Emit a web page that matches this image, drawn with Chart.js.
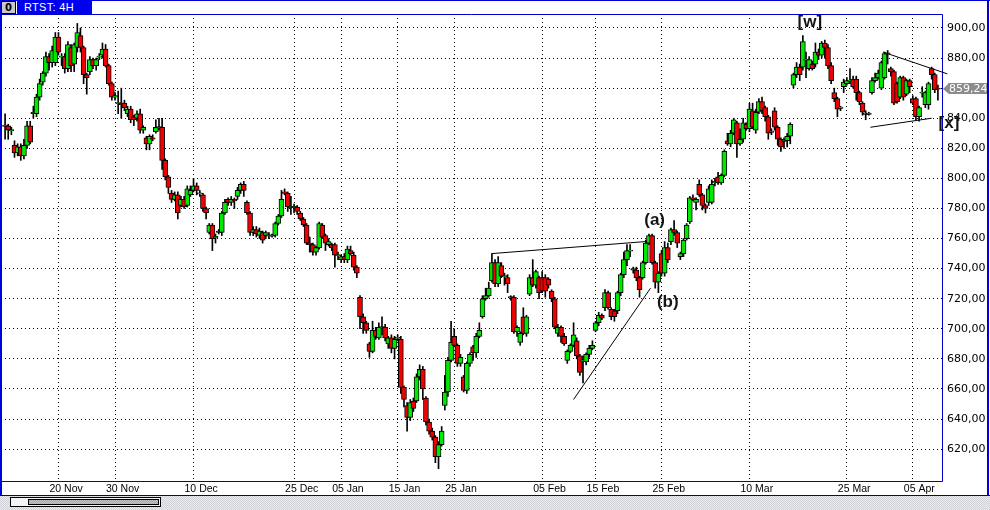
<!DOCTYPE html>
<html>
<head>
<meta charset="utf-8">
<title>RTST: 4H</title>
<script src="https://cdn.jsdelivr.net/npm/chart.js@4.4.1/dist/chart.umd.min.js"></script>
<style>
  html, body { margin: 0; padding: 0; }
  body { width: 990px; height: 510px; position: relative; overflow: hidden; background: #fff; font-family: 'Liberation Sans', Arial, sans-serif; }
  #chart { position: absolute; left: 0; top: 0; }
  .bottom { position: absolute; left: 0; top: 495px; width: 990px; height: 15px; border-top: 1px solid #0000a8;
            background-color: #d8d8d8; background-image: repeating-conic-gradient(#ececec 0 25%, #cfd2d6 0 50%); background-size: 2px 2px; }
  .scroll { position: absolute; left: 10px; top: 1px; width: 149px; height: 8px; border: 1px solid #000; background: #f4f4f4; }
  .thumb { position: absolute; left: 17px; top: 1px; width: 129px; height: 4px; border: 1px solid #000;
           background-color: #b4b4b4; background-image: repeating-conic-gradient(#c4c4c4 0 25%, #a8a8a8 0 50%); background-size: 2px 2px; }
  .win-l { position: absolute; left: 0; top: 0; width: 2px; height: 496px; background: #0000d8; }
  .win-r { position: absolute; left: 987px; top: 0; width: 2px; height: 496px; background: #0000d8; }
  .win-t { position: absolute; left: 0; top: 0; width: 990px; height: 1px; background: #0000d8; }
  .icon { position: absolute; left: 1px; top: 1px; width: 13px; height: 11px; border: 1px solid #000; background: #c8c8c8;
          font: bold 10px/11px 'DejaVu Sans', sans-serif; text-align: center; color: #000; }
  .caption { position: absolute; left: 17px; top: 0; width: 75px; height: 14px; background: #0000f0; color: #fff;
             font: 11px/14px 'Liberation Sans', Arial, sans-serif; padding-left: 7px; box-sizing: border-box; letter-spacing: 0.3px; }
</style>
</head>
<body>
<div class="bottom"><div class="scroll"><div class="thumb"></div></div></div>
<canvas id="chart" width="990" height="510"></canvas>
<div class="win-l"></div>
<div class="win-r"></div>
<div class="win-t"></div>
<div class="icon">0</div>
<div class="caption">RTST: 4H</div>
<script>
// Свечи 4H, по порядку слева направо
const opens = [
  835,835,832,822,817,821,815,822,835,843,
  843,854,864,870,881,877,877,894,881,881,
  873,887,876,887,895,887,869,871,879,875,
  881,882,886,875,863,854,850,850,850,843,
  846,841,840,843,832,827,823,827,831,834,
  834,812,801,790,786,789,782,786,782,789,
  792,795,790,789,780,764,769,761,765,764,
  777,786,784,786,788,792,796,784,777,764,
  766,762,764,762,762,762,762,770,775,791,
  790,781,781,781,777,773,769,757,756,751,
  754,769,762,756,756,756,749,746,748,746,
  752,749,741,721,708,704,690,685,699,694,
  701,701,690,694,687,694,693,661,649,641,
  652,652,668,673,654,638,632,628,615,623,
  649,658,679,695,689,677,668,659,677,688,
  684,695,708,720,722,732,744,730,742,735,
  734,721,721,698,691,708,697,723,734,729,
  734,734,734,733,725,720,697,701,695,679,
  685,689,692,682,679,678,683,687,699,704,
  709,714,724,713,712,712,724,736,746,752,
  740,739,734,734,744,757,762,744,731,750,
  737,754,758,766,764,748,750,760,771,787,
  784,796,789,782,784,784,797,801,797,802,
  825,823,830,837,823,826,836,833,845,832,
  844,851,847,841,831,845,834,826,825,825,
  828,862,869,874,874,879,873,876,876,884,
  882,890,887,875,857,853,847,861,863,865,
  866,866,857,850,843,843,857,865,867,860,
  867,883,873,871,863,854,867,856,865,853,
  853,841,857,849,849,873,869,860
];
const highs = [
  843,836,834,825,823,823,826,838,838,848,
  856,866,871,884,883,888,897,897,883,883,
  891,889,890,903,900,888,870,881,880,880,
  883,890,889,876,864,857,858,860,852,848,
  848,842,845,846,835,828,829,829,839,840,
  840,813,802,792,791,791,788,788,795,795,
  800,797,792,790,781,770,770,763,766,778,
  786,787,788,787,794,797,798,785,778,768,
  768,767,765,765,764,763,771,776,792,793,
  791,788,783,782,778,774,770,761,757,755,
  771,770,763,760,757,757,751,749,750,755,
  755,751,742,722,710,705,691,705,701,704,
  708,703,695,696,695,696,695,662,651,653,
  654,670,676,675,655,640,634,629,625,635,
  669,681,705,700,690,683,669,678,684,689,
  697,704,722,727,731,750,746,748,744,737,
  736,722,722,702,698,714,709,736,746,739,
  735,738,736,734,726,721,703,702,697,686,
  690,704,694,683,682,684,689,692,705,711,
  710,726,725,714,713,725,737,751,756,756,
  741,741,735,745,759,763,763,745,738,752,
  758,757,767,772,765,751,760,770,788,789,
  787,799,790,783,795,799,800,804,803,819,
  830,832,840,838,833,840,837,850,850,846,
  853,854,848,842,833,847,835,827,827,830,
  837,870,877,876,895,884,881,878,890,886,
  891,892,889,877,860,854,848,866,867,873,
  868,868,858,851,845,844,867,870,872,878,
  884,885,874,872,864,868,868,866,866,855,
  854,848,861,858,864,874,870,862
];
const lows = [
  826,826,829,814,815,812,813,820,823,840,
  841,852,862,868,872,874,875,882,875,870,
  871,871,871,884,884,863,856,869,873,872,
  879,880,874,862,852,852,843,840,845,841,
  837,835,838,830,830,819,819,825,830,832,
  806,799,790,784,785,773,781,780,781,788,
  791,789,788,778,773,763,752,757,763,762,
  776,782,782,780,786,790,788,776,762,762,
  761,760,757,760,760,761,761,769,774,789,
  778,776,777,776,772,768,756,751,749,749,
  753,760,752,755,752,741,746,744,744,744,
  749,739,734,700,697,697,681,684,693,693,
  696,692,687,684,680,692,657,648,632,639,
  645,651,666,653,636,630,626,611,607,622,
  646,655,678,688,675,675,658,657,675,679,
  681,694,707,719,721,731,728,728,734,729,
  724,719,697,695,689,696,695,722,728,727,
  720,724,721,727,718,700,695,691,689,677,
  684,688,680,669,664,676,681,686,698,702,
  706,712,713,706,705,710,722,734,742,748,
  737,732,721,733,743,756,743,727,724,735,
  735,744,756,762,754,746,748,759,770,785,
  779,788,779,777,782,783,795,796,796,801,
  822,821,829,814,822,824,832,831,833,830,
  843,843,838,826,829,832,822,818,820,821,
  823,860,867,865,872,867,872,872,874,879,
  880,880,873,863,851,841,845,857,862,863,
  860,852,849,842,839,842,856,864,866,859,
  866,876,868,849,850,853,852,855,857,849,
  839,838,854,847,846,866,857,852
];
const closes = [
  835,832,832,817,821,815,822,835,824,844,
  854,863,870,881,877,885,894,884,881,873,
  889,875,889,897,887,869,867,879,875,879,
  881,886,875,863,854,855,850,849,847,846,
  839,839,843,832,834,823,828,826,834,834,
  812,801,794,786,789,777,786,781,793,792,
  795,792,790,780,777,769,760,761,764,777,
  784,784,786,785,792,796,792,777,764,766,
  763,765,759,764,762,762,770,775,786,790,
  781,781,781,778,773,769,757,756,751,754,
  770,761,757,758,754,749,749,748,746,753,
  750,741,737,708,704,699,685,699,695,701,
  701,694,694,687,693,694,661,653,641,651,
  647,668,673,660,638,632,628,615,623,632,
  658,679,691,689,677,681,659,677,683,684,
  695,699,720,722,727,744,730,744,735,735,
  730,721,698,701,697,697,708,734,729,738,
  724,725,725,729,720,701,701,695,690,685,
  689,696,682,671,679,683,687,689,704,709,
  707,724,714,708,708,724,736,746,752,752,
  739,734,726,744,757,762,744,731,737,737,
  754,746,766,764,757,750,759,769,787,786,
  786,789,782,780,793,796,798,797,802,818,
  823,830,839,823,826,837,833,846,834,844,
  851,845,841,830,831,834,826,821,825,828,
  836,869,874,869,891,879,879,873,884,882,
  890,887,875,865,853,846,847,864,865,865,
  861,857,851,844,843,843,865,867,870,877,
  883,883,871,850,851,867,854,865,861,850,
  841,847,857,857,863,869,859,859.24
];

// подписи дат: номер свечи -> текст
const tickIndex = [17, 35, 60, 92, 107, 125, 143, 171, 188, 209, 237, 268, 289];
const tickText = ['20 Nov', '30 Nov', '10 Dec', '25 Dec', '05 Jan', '15 Jan', '25 Jan',
                  '05 Feb', '15 Feb', '25 Feb', '10 Mar', '25 Mar', '05 Apr'];
const priceTicks = [620, 640, 660, 680, 700, 720, 740, 760, 780, 800, 820, 840, 860, 880, 900];

// линии тренда: [свеча1, цена1, свеча2, цена2]
const trendLines = [
  [155, 750, 204, 758],
  [181, 653, 205.5, 727],
  [279.5, 884, 300, 869.5],
  [275.5, 834, 295, 840]
];
// разметка волн
const waveText = ['[w]', '(a)', '(b)', '[x]'];
const waveIndex = [256.2, 206.8, 211, 300.5];
const wavePrice = [903.7, 772, 717.5, 836.8];

const GREEN = '#00e800';
const RED = '#f00000';
const FRAME = '#0000c8';

const fmt = v => v.toFixed(2).replace('.', ',');

const idx = opens.map((_, i) => i);
const wickData = idx.map(i => ({ x: i, y: [lows[i], highs[i]] }));
const bodyData = idx.map(i => {
  let a = opens[i], b = closes[i];
  // доджи рисуем тонкой чертой
  if (Math.abs(a - b) < 0.6) {
    const m = (a + b) / 2;
    a = m - 0.4; b = m + 0.4;
  }
  return { x: i, y: [a, b] };
});
const bodyColors = idx.map(i => closes[i] >= opens[i] ? GREEN : RED);

const annotate = {
  id: 'annotate',
  afterDatasetsDraw(chart) {
    const { ctx, chartArea, scales: { x, y } } = chart;
    ctx.save();
    // рамка графика
    ctx.strokeStyle = FRAME;
    ctx.lineWidth = 1;
    ctx.beginPath();
    ctx.moveTo(0, chartArea.top + 0.5);
    ctx.lineTo(chartArea.right + 0.5, chartArea.top + 0.5);
    ctx.lineTo(chartArea.right + 0.5, chartArea.bottom + 0.5);
    ctx.lineTo(0, chartArea.bottom + 0.5);
    ctx.stroke();

    // линии тренда
    ctx.strokeStyle = '#000';
    trendLines.forEach(l => {
      ctx.beginPath();
      ctx.moveTo(x.getPixelForValue(l[0]), y.getPixelForValue(l[1]));
      ctx.lineTo(x.getPixelForValue(l[2]), y.getPixelForValue(l[3]));
      ctx.stroke();
    });

    // метки волн
    ctx.fillStyle = '#151515';
    ctx.font = 'bold 17px "Liberation Sans"';
    ctx.textAlign = 'center';
    ctx.textBaseline = 'middle';
    waveText.forEach((t, i) => {
      ctx.fillText(t, x.getPixelForValue(waveIndex[i]), y.getPixelForValue(wavePrice[i]));
    });
    ctx.restore();
  },
  afterDraw(chart) {
    const { ctx, chartArea, scales: { y } } = chart;
    const last = closes[closes.length - 1];
    const py = Math.round(y.getPixelForValue(last));
    const x0 = chartArea.right + 1;
    ctx.save();
    ctx.fillStyle = '#8c8c8c';
    ctx.beginPath();
    ctx.moveTo(x0, py);
    ctx.lineTo(x0 + 6, py - 6);
    ctx.lineTo(x0 + 46, py - 6);
    ctx.lineTo(x0 + 46, py + 5);
    ctx.lineTo(x0 + 6, py + 5);
    ctx.closePath();
    ctx.fill();
    ctx.fillStyle = '#fff';
    ctx.font = '11px "DejaVu Sans"';
    ctx.textAlign = 'left';
    ctx.textBaseline = 'middle';
    ctx.fillText(fmt(last), x0 + 6, py);
    ctx.restore();
  }
};

new Chart(document.getElementById('chart'), {
  type: 'bar',
  data: {
    datasets: [
      {
        label: 'body',
        data: bodyData,
        backgroundColor: bodyColors,
        borderColor: '#000',
        borderWidth: 1,
        borderSkipped: false,
        barThickness: 5,
        grouped: false,
        order: 0
      },
      {
        label: 'wick',
        data: wickData,
        backgroundColor: '#000',
        borderWidth: 0,
        barThickness: 1,
        grouped: false,
        order: 1
      }
    ]
  },
  options: {
    responsive: false,
    animation: false,
    devicePixelRatio: 1,
    layout: { padding: { left: 1, top: 14, right: 0, bottom: 0 } },
    plugins: {
      legend: { display: false },
      tooltip: { enabled: false }
    },
    scales: {
      x: {
        type: 'linear',
        min: -1.3,
        max: 298.3,
        offset: false,
        grid: { offset: false, color: '#000', lineWidth: 1, drawTicks: false },
        border: { display: false, dash: [1, 3] },
        ticks: {
          autoSkip: false,
          maxRotation: 0,
          align: 'start',
          labelOffset: -9,
          padding: 2,
          color: '#000',
          font: { family: 'Liberation Sans', size: 10.5 },
          callback: v => { const k = tickIndex.indexOf(v); return k >= 0 ? tickText[k] : ''; }
        },
        afterBuildTicks: s => { s.ticks = tickIndex.map(v => ({ value: v })); },
        afterFit: s => { s.height = 29; }
      },
      y: {
        position: 'right',
        min: 598.8,
        max: 909.3,
        grid: { color: '#000', lineWidth: 1, drawTicks: false },
        border: { display: false, dash: [1, 3] },
        ticks: {
          padding: 5,
          color: '#000',
          font: { family: 'DejaVu Sans', size: 11 },
          callback: v => fmt(v)
        },
        afterBuildTicks: s => { s.ticks = priceTicks.map(v => ({ value: v })); },
        afterFit: s => { s.width = 48; }
      }
    }
  },
  plugins: [annotate]
});
</script>
</body>
</html>
